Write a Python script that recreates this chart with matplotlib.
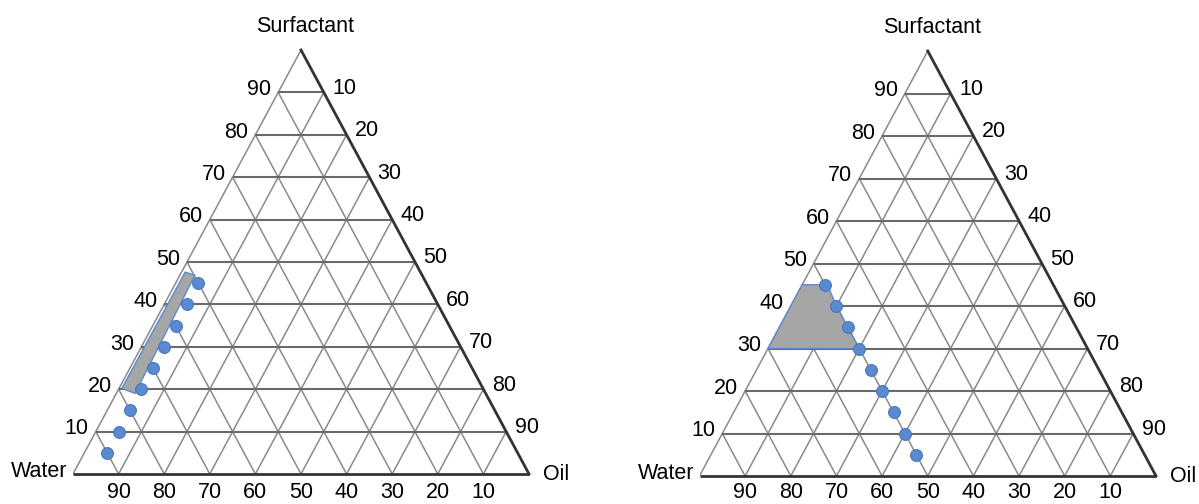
import matplotlib
matplotlib.use("Agg")
import matplotlib.pyplot as plt

plt.rcParams['font.family'] = ['Liberation Sans', 'DejaVu Sans']

# ternary data (percent)
ticks = [10, 20, 30, 40, 50, 60, 70, 80, 90]
left_ticks = ticks
right_ticks = [10, 20, 30, 40, 50, 60, 70, 80, 90]
bottom_ticks = [90, 80, 70, 60, 50, 40, 30, 20, 10]

# panel 1
pts1_surf = [45, 40, 35, 30, 25, 20, 15, 10, 5]
pts1_oil = [5, 5, 5, 5, 5, 5, 5, 5, 5]
reg1_surf = [47.6, 46.9, 19.0, 20.2]
reg1_oil = [0.8, 3.3, 4.1, 0.6]

# panel 2
pts2_surf = [45, 40, 35, 30, 25, 20, 15, 10, 5]
pts2_oil = [5, 10, 15, 20, 25, 30, 35, 40, 45]
reg2_surf = [45, 45, 40, 35, 30, 30]
reg2_oil = [0, 5.5, 10, 15, 20, 0]

BLUE = '#5a8ad0'
EDGE = '#4876bd'
FS = 15.5


def tern(surf, oil):
    # cartesian position: x = oil + surf/2, y = surf
    xs = [o + s / 2 for s, o in zip(surf, oil)]
    return xs, list(surf)


def draw_ternary(ax, pts_s, pts_o, reg_s, reg_o, bottom_off):
    ax.set_xlim(0, 100)
    ax.set_ylim(0, 100)
    ax.axis('off')

    for k in ticks:
        # surfactant = k (horizontal)
        ax.plot([k / 2, 100 - k / 2], [k, k], color='#6a6a6a', lw=1.5,
                zorder=2, solid_capstyle='butt')
        # oil = k
        ax.plot([k, k + (100 - k) / 2], [0, 100 - k], color='#8a8a8a',
                lw=1.1, zorder=1)
        # water = k
        ax.plot([100 - k, (100 - k) / 2], [0, 100 - k], color='#8a8a8a',
                lw=1.1, zorder=1)

    # outline
    ax.plot([0, 50], [0, 100], color='#8a8a8a', lw=1.1, zorder=1)
    ax.plot([0, 100], [0, 0], color='#333333', lw=2.0, zorder=3,
            solid_capstyle='butt', clip_on=False)
    ax.plot([100, 50], [0, 100], color='#333333', lw=2.0, zorder=3,
            clip_on=False)

    rx, ry = tern(reg_s, reg_o)
    ax.fill(rx, ry, facecolor='#a6a6a6', edgecolor=BLUE, lw=1.0, zorder=4)

    px, py = tern(pts_s, pts_o)
    ax.plot(px, py, 'o', ms=8.5, mfc=BLUE, mec=EDGE, mew=0.8, ls='none',
            zorder=5, clip_on=False)

    # tick labels
    for k, lab in zip(ticks, left_ticks):
        ax.annotate(str(lab), (k / 2, k), xytext=(-5, 2),
                    textcoords='offset points', ha='right', va='center',
                    fontsize=FS)
    for k, lab in zip(ticks[::-1], right_ticks):
        ax.annotate(str(lab), (100 - k / 2, k), xytext=(6, 3),
                    textcoords='offset points', ha='left', va='center',
                    fontsize=FS)
    for o, lab in zip(ticks, bottom_ticks):
        ax.annotate(str(lab), (o, 0), xytext=(0, bottom_off),
                    textcoords='offset points', ha='center', va='baseline',
                    fontsize=FS)

    ax.annotate('Surfactant', (50, 100), xytext=(3, 17),
                textcoords='offset points', ha='center', va='center',
                fontsize=FS)
    ax.annotate('Water', (0, 0), xytext=(-4, 2), textcoords='offset points',
                ha='right', va='center', fontsize=FS)
    ax.annotate('Oil', (100, 0), xytext=(10, 0), textcoords='offset points',
                ha='left', va='center', fontsize=FS)


fig = plt.figure(figsize=(11.99, 5.04), dpi=100)
ax1 = fig.add_axes([73 / 1199, 30 / 504, 456 / 1199, 424 / 504])
ax2 = fig.add_axes([699.5 / 1199, 28 / 504, 456.5 / 1199, 425 / 504])

draw_ternary(ax1, pts1_surf, pts1_oil, reg1_surf, reg1_oil, -17)
draw_ternary(ax2, pts2_surf, pts2_oil, reg2_surf, reg2_oil, -15.5)

fig.savefig('out.png', dpi=100)
